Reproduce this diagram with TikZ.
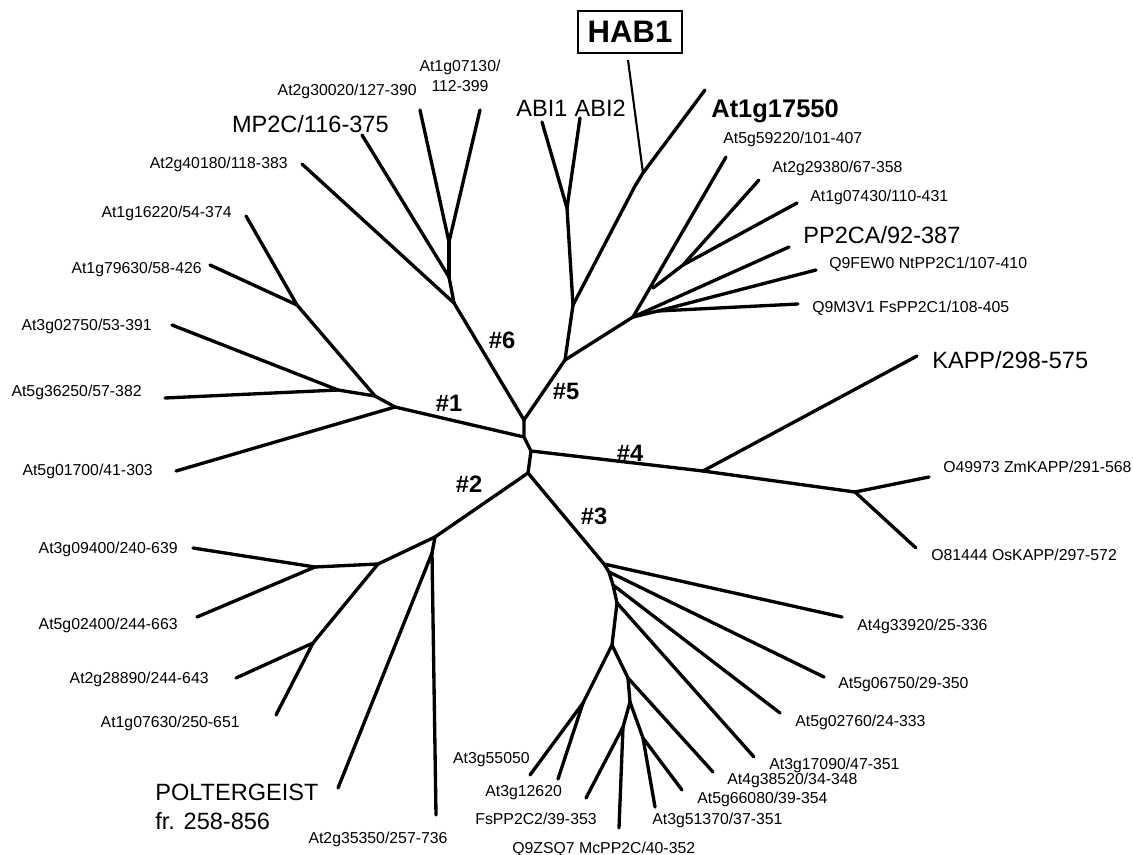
\documentclass[tikz,border=0pt]{standalone}
\usepackage{fontspec}
\setmainfont{Liberation Sans}
\usetikzlibrary{positioning}

\begin{document}
\begin{tikzpicture}[x=0.02cm, y=-0.02cm,
    branch/.style={line width=1.9pt, line cap=round, line join=round},
    lbl/.style={font=\fontsize{9}{10}\selectfont, inner sep=0pt, text height=6.4pt, text depth=0pt},
    biglbl/.style={font=\fontsize{13.4}{16}\selectfont, inner sep=0pt, text height=9.6pt, text depth=0pt},
    clade/.style={font=\bfseries\fontsize{13.5}{15}\selectfont, inner sep=0pt}]
    \useasboundingbox (0,0) rectangle (1133,855);

    % centre of the tree
    \coordinate (c6) at (524,420);
    \coordinate (c1) at (524,437);
    \coordinate (c4) at (531,451);
    \coordinate (c2) at (528,473);
    \draw[branch] (c6) -- (c1) -- (c4) -- (c2);

    % clade #6
    \coordinate (m6) at (454,303);
    \coordinate (n6) at (449,277);
    \coordinate (o6) at (449,242);
    \coordinate (e2g40180) at (302,164);
    \coordinate (eMP2C) at (362,135);
    \coordinate (e2g30020) at (420,110);
    \coordinate (e1g07130) at (480,110);
    \draw[branch] (c6) -- (m6);
    \draw[branch] (m6) -- (e2g40180);
    \draw[branch] (m6) -- (n6);
    \draw[branch] (n6) -- (eMP2C);
    \draw[branch] (n6) -- (o6);
    \draw[branch] (o6) -- (e2g30020);
    \draw[branch] (o6) -- (e1g07130);
    \node[lbl, anchor=east] (t2g40180) at (288,163) {At2g40180/118-383};
    \node[biglbl, anchor=east] (tMP2C) at (389,124) {MP2C/116-375};
    \node[lbl, anchor=east] (t2g30020) at (417,90) {At2g30020/127-390};
    \node[inner sep=0pt, align=center, font=\fontsize{9}{11.5}\selectfont] (t1g07130) at (460,76) {At1g07130/\\112-399};

    % clade #1
    \coordinate (p1) at (395,407);
    \coordinate (d1) at (375,396);
    \coordinate (g1) at (338,390);
    \coordinate (f1) at (297,305);
    \coordinate (e5g01700) at (176,471);
    \coordinate (e5g36250) at (165,398);
    \coordinate (e3g02750) at (172,325);
    \coordinate (e1g16220) at (246,216);
    \coordinate (e1g79630) at (210,265);
    \draw[branch] (c1) -- (p1);
    \draw[branch] (p1) -- (e5g01700);
    \draw[branch] (p1) -- (d1);
    \draw[branch] (d1) -- (g1);
    \draw[branch] (g1) -- (e5g36250);
    \draw[branch] (g1) -- (e3g02750);
    \draw[branch] (d1) -- (f1);
    \draw[branch] (f1) -- (e1g16220);
    \draw[branch] (f1) -- (e1g79630);
    \node[lbl, anchor=east] (t1g16220) at (232,212) {At1g16220/54-374};
    \node[lbl, anchor=east] (t1g79630) at (202,268) {At1g79630/58-426};
    \node[lbl, anchor=east] (t3g02750) at (152,325) {At3g02750/53-391};
    \node[lbl, anchor=east] (t5g36250) at (142,391) {At5g36250/57-382};
    \node[lbl, anchor=east] (t5g01700) at (153,470) {At5g01700/41-303};

    % clade #5
    \coordinate (q5) at (565,360);
    \coordinate (a5) at (573,305);
    \coordinate (abi) at (567,208);
    \coordinate (k5) at (635,186);
    \coordinate (h5) at (643,173);
    \coordinate (p5) at (633,317);
    \coordinate (s5) at (653,288);
    \coordinate (r5) at (683,265);
    \coordinate (u5) at (658,311);
    \coordinate (eABI1) at (542,122);
    \coordinate (eABI2) at (580,118);
    \coordinate (eHAB1) at (628,60);
    \coordinate (e1g17550) at (705,90);
    \coordinate (e5g59220) at (726,157);
    \coordinate (e2g29380) at (759,180);
    \coordinate (e1g07430) at (797,203);
    \coordinate (ePP2CA) at (789,247);
    \coordinate (eQ9FEW0) at (816,270);
    \coordinate (eQ9M3V1) at (798,304);
    \draw[branch] (c6) -- (q5);
    \draw[branch] (q5) -- (a5);
    \draw[branch] (a5) -- (abi);
    \draw[branch] (abi) -- (eABI1);
    \draw[branch] (abi) -- (eABI2);
    \draw[branch] (a5) -- (k5) -- (h5);
    \draw[line width=1.2pt] (h5) -- (eHAB1);
    \draw[branch] (h5) -- (e1g17550);
    \draw[branch] (q5) -- (p5);
    \draw[branch] (p5) -- (e5g59220);
    \draw[branch] (s5) -- (r5);
    \draw[branch] (r5) -- (e2g29380);
    \draw[branch] (r5) -- (e1g07430);
    \draw[branch] (p5) -- (ePP2CA);
    \draw[branch] (p5) -- (u5);
    \draw[branch] (u5) -- (eQ9FEW0);
    \draw[branch] (u5) -- (eQ9M3V1);
    \node[draw, line width=1.3pt, font=\bfseries\fontsize{17.7}{20}\selectfont, inner xsep=5.5pt, minimum height=24pt] (tHAB1) at (630,32) {HAB1};
    \node[biglbl, anchor=west] (tABI1) at (516,108) {ABI1};
    \node[biglbl, right=3.7pt of tABI1] (tABI2) {ABI2};
    \node[lbl, anchor=west, text height=9pt, font=\bfseries\fontsize{14.5}{16}\selectfont] (t1g17550) at (711,110) {At1g17550};
    \node[lbl, anchor=west] (t5g59220) at (723,138) {At5g59220/101-407};
    \node[lbl, anchor=west] (t2g29380) at (772,167) {At2g29380/67-358};
    \node[lbl, anchor=west] (t1g07430) at (810,196) {At1g07430/110-431};
    \node[biglbl, anchor=west] (tPP2CA) at (803,235) {PP2CA/92-387};
    \node[lbl, anchor=west] (tQ9FEW0) at (829,263) {Q9FEW0 NtPP2C1/107-410};
    \node[lbl, anchor=west] (tQ9M3V1) at (812,307) {Q9M3V1 FsPP2C1/108-405};

    % clade #4
    \coordinate (k4) at (703,471);
    \coordinate (o4) at (855,492);
    \coordinate (eKAPP) at (917,356);
    \coordinate (eO49973) at (929,477);
    \coordinate (eO81444) at (916,548);
    \draw[branch] (c4) -- (k4);
    \draw[branch] (k4) -- (eKAPP);
    \draw[branch] (k4) -- (o4);
    \draw[branch] (o4) -- (eO49973);
    \draw[branch] (o4) -- (eO81444);
    \node[biglbl, anchor=west] (tKAPP) at (932,360) {KAPP/298-575};
    \node[lbl, anchor=west] (tO49973) at (943,467) {O49973 ZmKAPP/291-568};
    \node[lbl, anchor=west] (tO81444) at (931,555) {O81444 OsKAPP/297-572};

    % clade #2
    \coordinate (g2) at (435,537);
    \coordinate (k2) at (432,553);
    \coordinate (h2) at (378,564);
    \coordinate (i2) at (315,567);
    \coordinate (j2) at (313,643);
    \coordinate (e3g09400) at (193,548);
    \coordinate (e5g02400) at (197,617);
    \coordinate (e2g28890) at (236,678);
    \coordinate (e1g07630) at (276,715);
    \coordinate (ePOLT) at (338,788);
    \coordinate (e2g35350) at (436,815);
    \draw[branch] (c2) -- (g2);
    \draw[branch] (g2) -- (h2);
    \draw[branch] (h2) -- (i2);
    \draw[branch] (i2) -- (e3g09400);
    \draw[branch] (i2) -- (e5g02400);
    \draw[branch] (h2) -- (j2);
    \draw[branch] (j2) -- (e2g28890);
    \draw[branch] (j2) -- (e1g07630);
    \draw[branch] (g2) -- (k2);
    \draw[branch] (k2) -- (ePOLT);
    \draw[branch] (k2) -- (e2g35350);
    \node[lbl, anchor=east] (t3g09400) at (178,548) {At3g09400/240-639};
    \node[lbl, anchor=east] (t5g02400) at (178,624) {At5g02400/244-663};
    \node[lbl, anchor=east] (t2g28890) at (209,678) {At2g28890/244-643};
    \node[lbl, anchor=east] (t1g07630) at (240,722) {At1g07630/250-651};
    \node[anchor=north west, align=left, inner sep=0pt, font=\fontsize{13.4}{16.5}\selectfont] (tPOLT) at (155,784) {POLTERGEIST\\fr. 258-856};
    \node[lbl] (t2g35350) at (378,838) {At2g35350/257-736};

    % clade #3
    \coordinate (v3) at (604,564);
    \coordinate (w3) at (609,572);
    \coordinate (x3) at (613,585);
    \coordinate (y3) at (617,603);
    \coordinate (z3) at (612,645);
    \coordinate (a3) at (583,703);
    \coordinate (b3) at (628,678);
    \coordinate (d3) at (630,702);
    \coordinate (f3) at (623,727);
    \coordinate (g3) at (643,738);
    \coordinate (e4g33920) at (842,617);
    \coordinate (e5g06750) at (824,677);
    \coordinate (e5g02760) at (780,713);
    \coordinate (e3g17090) at (754,757);
    \coordinate (e4g38520) at (713,772);
    \coordinate (e5g66080) at (682,790);
    \coordinate (e3g51370) at (655,807);
    \coordinate (eQ9ZSQ7) at (619,828);
    \coordinate (eFsPP2C2) at (586,798);
    \coordinate (e3g12620) at (558,779);
    \coordinate (e3g55050) at (530,775);
    \draw[branch] (c2) -- (v3) -- (w3) -- (x3) -- (y3) -- (z3);
    \draw[branch] (v3) -- (e4g33920);
    \draw[branch] (w3) -- (e5g06750);
    \draw[branch] (x3) -- (e5g02760);
    \draw[branch] (y3) -- (e3g17090);
    \draw[branch] (z3) -- (a3);
    \draw[branch] (a3) -- (e3g55050);
    \draw[branch] (a3) -- (e3g12620);
    \draw[branch] (z3) -- (b3);
    \draw[branch] (b3) -- (e4g38520);
    \draw[branch] (b3) -- (d3);
    \draw[branch] (d3) -- (f3);
    \draw[branch] (f3) -- (eFsPP2C2);
    \draw[branch] (f3) -- (eQ9ZSQ7);
    \draw[branch] (d3) -- (g3);
    \draw[branch] (g3) -- (e5g66080);
    \draw[branch] (g3) -- (e3g51370);
    \node[lbl, anchor=west] (t4g33920) at (857,625) {At4g33920/25-336};
    \node[lbl, anchor=west] (t5g06750) at (838,683) {At5g06750/29-350};
    \node[lbl, anchor=west] (t5g02760) at (795,721) {At5g02760/24-333};
    \node[lbl, anchor=west] (t3g17090) at (769,764) {At3g17090/47-351};
    \node[lbl, anchor=west] (t4g38520) at (727,779) {At4g38520/34-348};
    \node[lbl, anchor=west] (t5g66080) at (697,798) {At5g66080/39-354};
    \node[lbl, anchor=west] (t3g51370) at (652,819) {At3g51370/37-351};
    \node[lbl, anchor=west] (tQ9ZSQ7) at (512,848) {Q9ZSQ7 McPP2C/40-352};
    \node[lbl, anchor=west] (tFsPP2C2) at (475,819) {FsPP2C2/39-353};
    \node[lbl, anchor=west] (t3g12620) at (485,791) {At3g12620};
    \node[lbl, anchor=east] (t3g55050) at (530,758) {At3g55050};

    % clade numbers
    \node[clade] (n1) at (449,403) {\#1};
    \node[clade] (n2) at (469,484) {\#2};
    \node[clade] (n3) at (594,516) {\#3};
    \node[clade] (n4) at (630,453) {\#4};
    \node[clade] (n5) at (566,391) {\#5};
    \node[clade] (n6) at (502,340) {\#6};
\end{tikzpicture}
\end{document}
